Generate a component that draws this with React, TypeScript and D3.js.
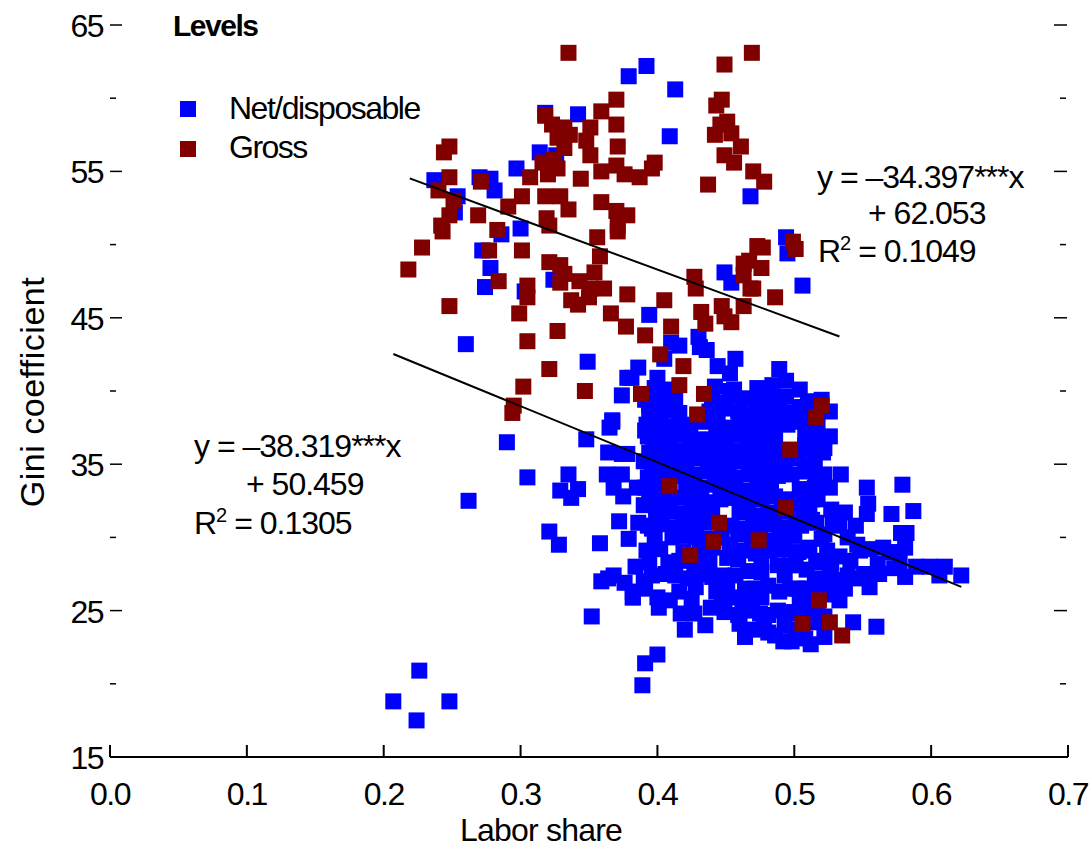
import React from 'react';
import * as d3 from 'd3';

// Gross Gini vs labor share
const grossUpper: [number, number][] = [
  [0.335, 63.1], [0.370, 59.9], [0.359, 59.1], [0.370, 58.2], [0.318, 58.8], [0.323, 58.2], [0.332, 58.0],
  [0.336, 57.5], [0.351, 58.0], [0.348, 57.1], [0.327, 57.3], [0.332, 56.6], [0.351, 56.1], [0.371, 56.7],
  [0.370, 55.4], [0.376, 54.8], [0.359, 55.0], [0.344, 54.5], [0.316, 55.6], [0.324, 55.8], [0.327, 55.2],
  [0.320, 54.8], [0.307, 54.6], [0.301, 53.3], [0.318, 53.3], [0.329, 53.3], [0.335, 52.4], [0.359, 52.9],
  [0.370, 52.3], [0.378, 52.0], [0.371, 51.3], [0.291, 52.6], [0.269, 52.0], [0.283, 51.0], [0.319, 51.8],
  [0.321, 51.3], [0.271, 54.3], [0.248, 56.7], [0.244, 56.3], [0.248, 54.6], [0.240, 53.7], [0.251, 53.0],
  [0.248, 52.0], [0.242, 51.3], [0.469, 63.1], [0.449, 62.3], [0.447, 59.9], [0.443, 59.5], [0.451, 58.4],
  [0.446, 58.2], [0.442, 57.5], [0.454, 57.6], [0.461, 56.7], [0.449, 56.1], [0.456, 55.6], [0.470, 55.0],
  [0.478, 54.3], [0.437, 54.1], [0.387, 54.6], [0.398, 55.6], [0.396, 55.2], [0.243, 50.9], [0.356, 50.5],
  [0.371, 50.9], [0.499, 50.2],
];

const grossMiddle: [number, number][] = [
  [0.228, 49.8], [0.218, 48.3], [0.277, 49.6], [0.301, 49.6], [0.321, 48.8], [0.329, 48.6], [0.332, 48.0],
  [0.329, 47.4], [0.343, 47.5], [0.354, 48.1], [0.358, 49.2], [0.351, 47.0], [0.361, 47.0], [0.350, 46.4],
  [0.337, 46.2], [0.342, 45.9], [0.378, 46.6], [0.366, 45.3], [0.377, 44.4], [0.284, 47.5], [0.305, 47.2],
  [0.305, 46.4], [0.299, 45.3], [0.248, 45.8], [0.327, 44.1], [0.305, 43.4], [0.321, 41.5], [0.302, 40.3],
  [0.347, 40.0], [0.405, 46.2], [0.391, 43.8], [0.410, 44.4], [0.427, 47.8], [0.428, 47.0], [0.432, 45.4],
  [0.435, 44.6], [0.447, 45.8], [0.449, 45.1], [0.454, 44.7], [0.463, 45.8], [0.463, 48.7], [0.467, 48.9],
  [0.473, 49.9], [0.477, 49.8], [0.476, 48.4], [0.463, 47.9], [0.468, 47.0], [0.470, 47.0], [0.486, 46.4],
  [0.501, 49.7], [0.402, 42.5], [0.419, 41.7], [0.416, 40.4],
];

const grossLower: [number, number][] = [
  [0.295, 39.0], [0.294, 38.5], [0.388, 39.8], [0.434, 39.8], [0.429, 38.4], [0.520, 39.0], [0.516, 38.2],
  [0.497, 36.0], [0.409, 33.5], [0.494, 32.0], [0.445, 31.0], [0.441, 29.7], [0.474, 29.8], [0.424, 28.8],
  [0.518, 25.7], [0.506, 24.1], [0.526, 24.2], [0.535, 23.3],
];

// Net/disposable Gini vs labor share
const netOutliers: [number, number][] = [
  [0.379, 61.5], [0.392, 62.2], [0.413, 60.6], [0.409, 57.4], [0.468, 53.3], [0.342, 58.9], [0.318, 59.0],
  [0.314, 56.3], [0.326, 56.1], [0.297, 55.2], [0.270, 54.6], [0.278, 54.5], [0.281, 53.7], [0.237, 54.4],
  [0.254, 53.3], [0.252, 52.2], [0.300, 51.1], [0.286, 50.7], [0.272, 49.6], [0.278, 48.4], [0.274, 47.1],
  [0.303, 46.8], [0.324, 47.6], [0.494, 50.5], [0.495, 49.4], [0.506, 47.2], [0.449, 48.1], [0.454, 47.4],
  [0.394, 45.2], [0.260, 43.2], [0.349, 42.0],
];

const netLeft: [number, number][] = [
  [0.378, 40.9], [0.374, 39.7], [0.367, 38.0], [0.290, 36.5], [0.305, 34.1], [0.262, 32.5], [0.335, 34.3],
  [0.329, 33.2], [0.342, 33.3], [0.337, 32.7], [0.321, 30.4], [0.328, 29.5], [0.358, 29.6], [0.348, 36.7],
  [0.367, 37.9], [0.365, 37.5], [0.364, 35.8], [0.374, 35.7], [0.378, 35.7], [0.391, 37.3], [0.363, 34.3],
  [0.374, 34.3], [0.368, 33.4], [0.375, 32.8], [0.385, 33.4], [0.393, 34.1], [0.390, 32.2], [0.372, 31.1],
  [0.386, 31.0], [0.379, 29.9], [0.396, 30.6], [0.394, 35.8], [0.397, 36.5], [0.384, 28.0], [0.359, 27.0],
  [0.364, 27.2], [0.368, 27.4], [0.376, 26.9], [0.382, 26.3], [0.390, 27.0], [0.396, 27.4], [0.382, 25.9],
  [0.352, 24.6], [0.400, 22.0], [0.391, 21.4], [0.389, 19.9], [0.226, 20.9], [0.207, 18.8], [0.248, 18.8],
  [0.224, 17.5], [0.386, 41.6], [0.381, 40.9],
];

const netTop: [number, number][] = [
  [0.410, 43.3], [0.416, 43.1], [0.430, 43.7], [0.431, 43.0], [0.436, 42.8], [0.444, 41.7], [0.457, 42.2],
  [0.453, 41.2], [0.456, 40.1], [0.453, 39.7], [0.489, 41.5], [0.494, 40.7], [0.405, 42.2], [0.400, 40.9],
  [0.406, 39.7], [0.411, 38.9], [0.394, 39.0], [0.440, 39.2], [0.444, 38.5], [0.460, 38.5], [0.472, 38.9],
  [0.481, 38.9], [0.485, 38.5], [0.504, 38.9], [0.503, 38.2],
];

const netCore: [number, number][] = [
  [0.398, 40.2], [0.408, 40.1], [0.442, 40.3], [0.453, 40.0], [0.473, 40.2], [0.484, 40.4], [0.504, 40.1],
  [0.391, 39.4], [0.402, 39.3], [0.413, 39.5], [0.440, 39.4], [0.450, 39.2], [0.462, 39.5], [0.473, 39.3],
  [0.483, 39.4], [0.494, 39.6], [0.510, 39.3], [0.520, 39.4],
  [0.394, 38.6], [0.405, 38.7], [0.416, 38.5], [0.438, 38.6], [0.449, 38.8], [0.459, 38.6], [0.469, 38.4],
  [0.479, 38.7], [0.489, 38.6], [0.500, 38.5], [0.526, 38.6],
  [0.392, 37.7], [0.402, 37.8], [0.412, 37.6], [0.422, 37.7], [0.432, 37.9], [0.443, 37.7], [0.454, 37.5],
  [0.464, 37.7], [0.475, 37.8], [0.485, 37.6], [0.495, 37.7], [0.506, 37.9], [0.517, 37.7],
  [0.393, 36.9], [0.403, 36.8], [0.413, 37.0], [0.424, 36.9], [0.435, 36.7], [0.446, 36.9], [0.456, 37.0],
  [0.466, 36.8], [0.476, 36.9], [0.486, 36.7], [0.508, 36.9], [0.519, 36.8],
  [0.399, 36.0], [0.409, 36.1], [0.419, 35.9], [0.430, 36.0], [0.440, 36.2], [0.450, 36.0], [0.460, 35.9],
  [0.471, 36.1], [0.481, 36.0], [0.492, 35.8], [0.511, 36.0], [0.522, 36.1],
  [0.390, 35.2], [0.400, 35.3], [0.411, 35.1], [0.421, 35.2], [0.431, 35.4], [0.441, 35.2], [0.452, 35.0],
  [0.462, 35.2], [0.473, 35.3], [0.483, 35.1], [0.493, 35.2], [0.503, 35.4], [0.515, 35.2],
  [0.396, 34.3], [0.406, 34.4], [0.416, 34.2], [0.427, 34.3], [0.437, 34.5], [0.447, 34.3], [0.457, 34.1],
  [0.467, 34.3], [0.478, 34.4], [0.488, 34.2], [0.498, 34.3], [0.508, 34.5], [0.522, 34.3],
  [0.391, 33.4], [0.401, 33.5], [0.421, 33.3], [0.432, 33.4], [0.442, 33.6], [0.452, 33.4], [0.462, 33.2],
  [0.473, 33.4], [0.483, 33.5], [0.504, 33.3], [0.526, 33.4],
  [0.394, 32.6], [0.405, 32.5], [0.415, 32.7], [0.425, 32.6], [0.435, 32.4], [0.446, 32.6], [0.456, 32.7],
  [0.466, 32.5], [0.476, 32.6], [0.486, 32.8], [0.497, 32.6], [0.507, 32.4], [0.517, 32.6],
  [0.399, 31.7], [0.409, 31.8], [0.419, 31.6], [0.430, 31.7], [0.440, 31.9], [0.460, 31.7], [0.470, 31.5],
  [0.481, 31.7], [0.491, 31.8], [0.501, 31.6], [0.511, 31.7], [0.537, 31.7],
  [0.393, 30.8], [0.403, 30.9], [0.413, 30.7], [0.424, 30.8], [0.434, 31.0], [0.454, 30.8], [0.465, 30.6],
  [0.475, 30.8], [0.485, 30.9], [0.495, 30.7], [0.505, 30.8], [0.516, 31.0], [0.533, 30.8],
  [0.398, 30.0], [0.419, 30.1], [0.438, 29.9], [0.447, 30.0], [0.459, 30.2], [0.469, 30.0], [0.479, 29.8],
  [0.489, 30.0], [0.500, 30.1], [0.520, 29.9], [0.539, 30.0],
  [0.392, 29.1], [0.402, 29.2], [0.419, 29.0], [0.431, 29.1], [0.440, 29.3], [0.462, 29.1], [0.472, 28.9],
  [0.482, 29.1], [0.492, 29.2], [0.503, 29.0], [0.524, 29.1], [0.555, 29.2], [0.570, 29.0],
  [0.394, 28.3], [0.416, 28.4], [0.427, 28.2], [0.438, 28.3], [0.459, 28.5], [0.476, 28.3], [0.497, 28.1],
  [0.519, 28.3], [0.541, 28.4], [0.561, 28.2], [0.577, 28.3],
  [0.413, 27.4], [0.431, 27.5], [0.440, 27.3], [0.457, 27.4], [0.476, 27.6], [0.493, 27.4], [0.515, 27.2],
  [0.526, 27.4], [0.562, 27.5], [0.581, 27.3], [0.606, 27.4],
  [0.391, 26.5], [0.428, 26.6], [0.451, 26.4], [0.464, 26.5], [0.481, 26.7], [0.502, 26.5], [0.519, 26.3],
  [0.537, 26.5], [0.555, 26.6],
  [0.409, 25.7], [0.425, 25.8], [0.447, 25.6], [0.466, 25.7], [0.476, 25.9], [0.504, 25.7], [0.515, 25.5],
  [0.533, 25.7],
  [0.427, 24.8], [0.449, 24.9], [0.459, 24.7], [0.475, 24.8], [0.488, 25.0], [0.504, 24.8], [0.522, 24.6],
  [0.435, 24.0], [0.460, 24.1], [0.478, 23.9], [0.493, 24.0], [0.515, 24.2],
  [0.464, 23.2], [0.486, 23.3], [0.508, 23.1], [0.522, 23.2],
];

const netLower: [number, number][] = [
  [0.382, 25.9], [0.400, 25.9], [0.401, 25.2], [0.406, 27.5], [0.408, 28.3], [0.417, 24.8], [0.420, 23.7],
  [0.416, 26.3], [0.422, 27.2], [0.411, 30.0], [0.428, 30.0], [0.439, 25.2], [0.443, 26.3], [0.449, 27.4],
  [0.451, 28.6], [0.453, 29.5], [0.457, 25.9], [0.462, 25.5], [0.469, 25.0], [0.470, 23.7], [0.481, 24.7],
  [0.481, 23.5], [0.492, 22.9], [0.498, 22.9], [0.512, 22.7], [0.489, 26.3], [0.497, 26.5], [0.508, 26.5],
  [0.488, 28.1], [0.501, 28.1], [0.510, 29.1], [0.466, 27.7], [0.471, 26.5], [0.497, 24.9], [0.501, 23.7],
  [0.511, 25.0],
];

const netRight: [number, number][] = [
  [0.534, 34.3], [0.579, 33.6], [0.553, 33.4], [0.554, 32.3], [0.553, 31.6], [0.571, 31.6], [0.587, 31.8],
  [0.578, 30.3], [0.582, 30.3], [0.581, 29.3], [0.565, 29.3], [0.599, 28.0], [0.622, 27.4], [0.589, 28.0],
  [0.573, 27.9], [0.545, 30.8], [0.546, 29.5], [0.548, 29.1], [0.539, 27.4], [0.545, 27.2], [0.551, 27.5],
  [0.534, 27.1], [0.527, 28.2], [0.533, 28.7], [0.516, 28.4], [0.526, 36.9], [0.521, 35.8], [0.514, 34.9],
  [0.516, 33.9], [0.515, 33.4], [0.527, 31.9], [0.528, 31.1], [0.513, 31.2], [0.522, 30.2], [0.511, 29.3],
  [0.509, 26.5], [0.524, 27.0], [0.528, 26.1], [0.543, 24.2], [0.560, 23.9], [0.517, 25.2], [0.508, 38.9],
  [0.511, 37.3], [0.508, 36.3], [0.513, 32.6], [0.509, 27.8], [0.610, 28.0],
];

const grossPoints = [...grossUpper, ...grossMiddle, ...grossLower];
const netPoints = [...netOutliers, ...netLeft, ...netTop, ...netCore, ...netLower, ...netRight];

// regression lines: slope, intercept, x range
const grossFit = { slope: -34.397, intercept: 62.053, from: 0.219, to: 0.533 };
const netFit = { slope: -38.319, intercept: 50.459, from: 0.207, to: 0.622 };

const xTicks = [0, 0.1, 0.2, 0.3, 0.4, 0.5, 0.6, 0.7];
const yMajor = [15, 25, 35, 45, 55, 65];
const yMinor = [20, 30, 40, 50, 60];

const FONT = 'Liberation Sans, Arial, sans-serif';
const BLUE = '#0000ff';
const RED = '#800000';

export default function App() {
  const width = 1089;
  const height = 848;
  const x = d3.scaleLinear().domain([0, 0.7]).range([110, 1068]);
  const y = d3.scaleLinear().domain([15, 65]).range([757, 25]);
  const s = 16;

  const fitLine = (f: typeof grossFit) =>
    d3.line<number>().x(d => x(d)).y(d => y(f.intercept + f.slope * d))([f.from, f.to]) || '';

  const txt = { fontFamily: FONT, fontSize: 32, letterSpacing: -1.5, fill: '#000' } as const;
  const eq = { fontFamily: FONT, fontSize: 32, letterSpacing: -1, fill: '#000' } as const;

  return (
    <svg width={width} height={height} style={{ position: 'absolute', left: 0, top: 0, background: '#fff' }}>
      {/* points */}
      {netPoints.map((d, i) => (
        <rect key={'n' + i} x={x(d[0]) - s / 2} y={y(d[1]) - s / 2} width={s} height={s} fill={BLUE} />
      ))}
      {grossPoints.map((d, i) => (
        <rect key={'g' + i} x={x(d[0]) - s / 2} y={y(d[1]) - s / 2} width={s} height={s} fill={RED} />
      ))}

      {/* fitted lines */}
      <path d={fitLine(grossFit)} stroke="#000" strokeWidth={2} fill="none" />
      <path d={fitLine(netFit)} stroke="#000" strokeWidth={2} fill="none" />

      {/* x axis */}
      <line x1={x(0)} x2={x(0.7)} y1={757} y2={757} stroke="#000" strokeWidth={2} />
      {xTicks.map(t => (
        <g key={'xt' + t}>
          <line x1={x(t)} x2={x(t)} y1={745} y2={757} stroke="#000" strokeWidth={2} />
          <text x={x(t)} y={805} textAnchor="middle" {...txt}>{t.toFixed(1)}</text>
        </g>
      ))}

      {/* y ticks left and right */}
      {yMajor.map(t => (
        <g key={'ym' + t}>
          <line x1={110} x2={122} y1={y(t)} y2={y(t)} stroke="#000" strokeWidth={1.5} />
          <line x1={1054} x2={1067} y1={y(t)} y2={y(t)} stroke="#000" strokeWidth={1.5} />
          <text x={103} y={y(t) + 12} textAnchor="end" {...txt}>{t}</text>
        </g>
      ))}
      {yMinor.map(t => (
        <g key={'yn' + t}>
          <line x1={110} x2={116} y1={y(t)} y2={y(t)} stroke="#000" strokeWidth={1.5} />
          <line x1={1060} x2={1066} y1={y(t)} y2={y(t)} stroke="#000" strokeWidth={1.5} />
        </g>
      ))}

      {/* axis titles */}
      <text x={541} y={841} textAnchor="middle" {...txt} letterSpacing={-0.8}>Labor share</text>
      <text transform="translate(44,392) rotate(-90)" textAnchor="middle" {...txt} fontSize={34} letterSpacing={0.5}>Gini coefficient</text>

      {/* legend */}
      <text x={173} y={36} fontFamily={FONT} fontSize={30} fontWeight="bold" letterSpacing={-1.5}>Levels</text>
      <rect x={180} y={101} width={s} height={s} fill={BLUE} />
      <text x={229} y={119} {...txt}>Net/disposable</text>
      <rect x={180} y={141} width={s} height={s} fill={RED} />
      <text x={229} y={158} {...txt}>Gross</text>

      {/* equations */}
      <text x={817} y={188} {...eq}>y = –34.397***x</text>
      <text x={868} y={224} {...eq}>+ 62.053</text>
      <text x={818} y={262} {...eq}>R<tspan fontSize={20} dy={-12}>2</tspan><tspan dy={12}> = 0.1049</tspan></text>

      <text x={194} y={457} {...eq}>y = –38.319***x</text>
      <text x={246} y={495} {...eq}>+ 50.459</text>
      <text x={194} y={534} {...eq}>R<tspan fontSize={20} dy={-12}>2</tspan><tspan dy={12}> = 0.1305</tspan></text>
    </svg>
  );
}
